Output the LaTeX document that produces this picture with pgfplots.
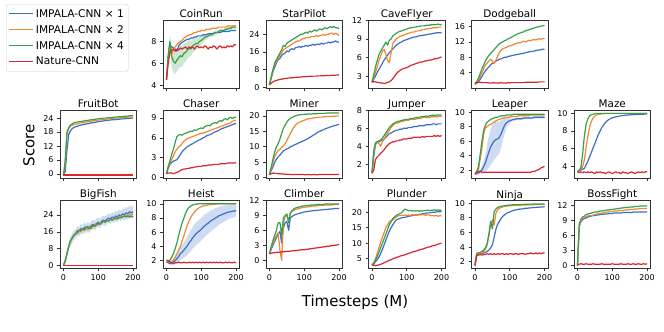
\documentclass[border=0pt]{standalone}
\usepackage{fontspec}
\setmainfont{DejaVu Sans}
\usepackage{pgfplots}
\usepackage{pgfplotstable}
\pgfplotsset{compat=1.18}
\usepgfplotslibrary{fillbetween}

\definecolor{cb}{RGB}{60,110,200}
\definecolor{co}{RGB}{240,135,50}
\definecolor{cg}{RGB}{55,160,75}
\definecolor{cr}{RGB}{215,40,45}

\pgfplotsset{
  panel/.style={scale only axis, width=76.5pt, height=68pt, anchor=south west,
    xmin=-10, xmax=210, xtick={0,100,200}, tick align=outside, tick pos=left,
    major tick length=3pt,
    axis line style={line width=0.6pt, black!80},
    every tick/.append style={line width=0.6pt, black!80},
    /pgf/number format/assume math mode=true,
    ticklabel style={font=\fontsize{8}{9}\selectfont},
    every axis title/.style={at={(0.5,1)}, anchor=base, yshift=2.5pt,
      font=\fontsize{10.4}{12}\selectfont},
    every axis plot/.append style={line width=1.2pt, line join=round}},
  nox/.style={xticklabels={}},
}

% x, IMPALA x1 (b), x2 (o), x4 (g), Nature-CNN (r), band half width (w)
\pgfplotstableread{
x b o g r w
0 4.5 4.5 4.5 4.5 0
5 6.5 6.6 6.8 6.0 0.5
10 7.7 7.8 8.0 7.0 0.6
15 7.5 6.8 6.6 7.2 1.0
20 7.4 7.3 6.2 7.3 1.0
25 7.3 7.5 6.0 7.1 1.0
30 7.1 7.7 6.3 7.3 1.0
35 7.6 7.9 6.5 7.2 1.0
40 7.8 8.0 6.7 7.4 1.0
45 7.9 8.1 6.6 7.3 0.95
50 8.0 8.3 6.9 7.4 0.9
55 8.1 8.4 7.0 7.5 0.85
60 8.2 8.5 7.2 7.3 0.8
65 8.2 8.6 7.4 7.5 0.75
70 8.3 8.6 7.3 7.4 0.7
75 8.3 8.7 7.6 7.5 0.65
80 8.4 8.8 7.7 7.3 0.6
85 8.4 8.8 7.8 7.5 0.55
90 8.5 8.9 7.8 7.6 0.5
95 8.5 8.9 8.0 7.4 0.45
100 8.5 9.0 8.1 7.5 0.4
105 8.6 9.0 8.2 7.4 0.35
110 8.6 9.0 8.4 7.6 0.3
115 8.6 9.1 8.4 7.5 0.25
120 8.7 9.1 8.5 7.3 0.2
125 8.7 9.1 8.6 7.5 0.2
130 8.7 9.2 8.6 7.4 0.2
135 8.7 9.2 8.7 7.6 0.2
140 8.8 9.2 8.8 7.5 0.2
145 8.8 9.2 8.8 7.3 0.2
150 8.8 9.3 8.9 7.5 0.15
155 8.8 9.3 9.0 7.6 0.15
160 8.9 9.3 9.0 7.4 0.15
165 8.9 9.3 9.0 7.5 0.15
170 8.9 9.3 9.1 7.4 0.15
175 8.9 9.4 9.1 7.6 0.15
180 8.9 9.4 9.2 7.5 0.15
185 9.0 9.4 9.2 7.6 0.15
190 9.0 9.4 9.3 7.5 0.15
195 9.0 9.4 9.3 7.7 0.15
200 9.0 9.4 9.3 7.7 0.15
}\tCoinRun

\pgfplotstableread{
x b o g r
0 1.0 1.0 1.0 1.0
5 4.0 4.5 4.8 1.8
10 7.0 7.5 8.0 2.4
15 9.0 10.0 11.0 2.8
20 11.0 12.0 12.5 3.0
25 12.5 13.0 14.0 3.3
30 13.0 14.5 15.5 3.5
35 14.5 15.5 17.0 3.6
40 15.0 17.0 19.0 3.8
45 15.5 17.5 18.5 3.9
50 16.5 18.0 20.0 4.0
55 16.0 18.5 20.5 4.1
60 17.0 19.0 21.0 4.2
65 17.5 19.5 21.5 4.3
70 17.0 20.0 22.0 4.3
75 18.0 20.5 22.5 4.4
80 18.0 21.0 23.0 4.5
85 18.5 21.0 23.5 4.5
90 18.0 21.5 24.0 4.6
95 18.5 22.0 24.0 4.7
100 18.5 22.0 24.5 4.7
105 19.0 22.5 25.0 4.8
110 18.5 22.5 24.5 4.8
115 19.0 22.5 25.5 4.9
120 19.0 23.0 25.0 4.9
125 19.5 23.0 25.5 5.0
130 19.0 23.0 26.0 5.0
135 19.5 23.5 25.5 5.0
140 19.5 23.0 26.0 5.1
145 19.5 23.5 26.5 5.1
150 20.0 23.5 26.0 5.2
155 19.5 24.0 26.5 5.2
160 20.0 23.5 27.0 5.2
165 20.0 24.0 26.5 5.3
170 20.5 24.0 27.0 5.3
175 20.0 24.5 27.5 5.3
180 20.5 24.5 27.0 5.4
185 20.5 24.0 27.5 5.4
190 21.0 24.5 27.0 5.4
195 20.5 24.0 27.0 5.5
200 20.5 23.5 26.5 5.5
}\tStarPilot

\pgfplotstableread{
x b o g r
0 2.0 2.0 2.0 2.2
5 2.5 2.8 3.2 2.1
10 3.0 3.6 4.5 2.1
15 3.6 4.5 5.5 2.0
20 4.1 5.5 6.5 2.0
25 4.6 6.3 7.0 1.9
30 5.1 7.0 7.5 1.9
35 5.6 7.3 8.0 1.8
40 6.0 6.5 8.5 1.9
45 6.4 5.5 8.0 2.0
50 6.8 5.2 8.8 2.1
55 7.1 6.8 9.0 2.3
60 7.4 8.3 9.5 2.6
65 7.7 8.6 9.7 3.0
70 8.0 9.0 9.9 3.4
75 8.2 9.2 10.1 3.7
80 8.4 9.4 10.2 3.9
85 8.5 9.5 10.3 4.1
90 8.7 9.6 10.4 4.2
95 8.8 9.7 10.5 4.3
100 8.9 9.8 10.6 4.4
105 9.0 9.9 10.7 4.5
110 9.1 10.0 10.8 4.7
115 9.2 10.1 10.8 4.8
120 9.3 10.1 10.9 4.9
125 9.3 10.2 10.9 5.0
130 9.4 10.3 11.0 5.1
135 9.5 10.3 11.0 5.2
140 9.5 10.4 11.1 5.3
145 9.6 10.5 11.1 5.3
150 9.6 10.5 11.1 5.4
155 9.7 10.6 11.2 5.5
160 9.7 10.6 11.2 5.5
165 9.8 10.7 11.2 5.6
170 9.8 10.7 11.3 5.6
175 9.9 10.8 11.3 5.7
180 9.9 10.8 11.3 5.8
185 10.0 10.8 11.3 5.8
190 10.0 10.9 11.4 5.9
195 10.0 10.9 11.3 6.0
200 10.0 10.9 11.3 6.1
}\tCaveFlyer

\pgfplotstableread{
x b o g r
0 1.0 1.0 1.0 1.3
5 1.2 1.4 1.6 1.4
10 1.6 2.0 2.6 1.5
15 2.3 3.0 3.8 1.5
20 3.0 4.0 5.0 1.4
25 3.8 5.0 6.0 1.4
30 4.5 6.0 7.0 1.4
35 5.0 6.5 7.8 1.4
40 5.5 7.0 8.5 1.3
45 6.0 7.5 9.0 1.3
50 6.5 7.0 9.5 1.3
55 6.6 6.4 10.0 1.4
60 7.0 7.2 10.5 1.3
65 7.2 8.2 11.0 1.3
70 7.5 9.2 11.5 1.3
75 7.6 9.8 11.8 1.4
80 7.8 10.2 12.0 1.3
85 8.0 10.4 12.3 1.3
90 8.0 10.6 12.5 1.3
95 8.2 10.8 12.8 1.4
100 8.3 11.0 13.0 1.3
105 8.4 11.1 13.2 1.4
110 8.5 11.2 13.5 1.4
115 8.6 11.5 13.7 1.4
120 8.7 11.6 14.0 1.4
125 8.8 11.8 14.2 1.4
130 8.9 11.8 14.3 1.4
135 9.0 12.0 14.5 1.4
140 9.0 12.2 14.6 1.4
145 9.2 12.0 14.9 1.5
150 9.3 12.2 15.0 1.5
155 9.4 12.4 15.2 1.5
160 9.5 12.3 15.3 1.5
165 9.5 12.5 15.5 1.5
170 9.6 12.6 15.6 1.5
175 9.8 12.5 15.8 1.5
180 9.8 12.7 15.9 1.5
185 9.9 12.8 16.0 1.6
190 10.0 12.7 16.1 1.6
195 10.1 12.9 16.2 1.6
200 10.0 12.8 16.3 1.6
}\tDodgeball

\pgfplotstableread{
x b o g r
0 -0.5 -0.5 -0.5 -0.5
5 1.0 4.0 6.0 -0.5
10 10.0 17.0 18.0 -0.5
15 17.0 19.5 20.0 -0.5
20 18.5 20.5 21.0 -0.5
25 19.5 21.0 21.5 -0.5
30 20.0 21.2 22.0 -0.5
35 20.3 21.5 22.2 -0.5
40 20.5 21.5 22.3 -0.5
45 20.8 21.8 22.5 -0.5
50 21.0 22.0 22.5 -0.5
55 21.2 22.0 22.7 -0.5
60 21.3 22.2 22.8 -0.5
65 21.5 22.3 23.0 -0.5
70 21.6 22.5 23.0 -0.5
75 21.8 22.6 23.2 -0.5
80 22.0 22.8 23.3 -0.5
85 22.0 22.8 23.4 -0.5
90 22.2 23.0 23.5 -0.5
95 22.3 23.0 23.6 -0.5
100 22.5 23.2 23.7 -0.5
105 22.5 23.2 23.8 -0.5
110 22.7 23.3 23.8 -0.5
115 22.8 23.4 24.0 -0.5
120 23.0 23.5 24.0 -0.5
125 23.0 23.6 24.1 -0.5
130 23.1 23.6 24.2 -0.5
135 23.2 23.8 24.2 -0.5
140 23.3 23.8 24.3 -0.5
145 23.3 24.0 24.4 -0.5
150 23.4 24.0 24.4 -0.5
155 23.5 24.0 24.5 -0.5
160 23.5 24.1 24.6 -0.5
165 23.6 24.2 24.6 -0.5
170 23.7 24.2 24.7 -0.5
175 23.7 24.3 24.8 -0.5
180 23.8 24.3 24.8 -0.5
185 23.8 24.4 24.9 -0.5
190 23.9 24.5 25.0 -0.5
195 24.0 24.4 25.0 -0.5
200 24.0 24.5 25.0 -0.5
}\tFruitBot

\pgfplotstableread{
x b o g r
0 0.6 0.6 0.6 0.6
5 1.4 1.5 1.7 0.7
10 2.0 2.2 2.6 0.7
15 2.3 2.7 3.5 0.7
20 2.5 3.3 4.3 0.6
25 2.6 3.9 5.3 0.7
30 2.7 4.3 6.2 0.8
35 3.1 4.6 6.4 0.9
40 3.5 4.8 6.5 1.1
45 3.9 5.2 6.4 1.2
50 4.2 5.5 6.6 1.3
55 4.4 5.7 6.7 1.3
60 4.7 5.9 6.8 1.4
65 4.8 6.0 6.9 1.4
70 5.0 6.1 7.0 1.5
75 5.1 6.2 7.0 1.5
80 5.3 6.3 7.2 1.6
85 5.4 6.4 7.1 1.6
90 5.6 6.5 7.3 1.7
95 5.7 6.6 7.4 1.7
100 5.8 6.7 7.5 1.7
105 6.0 6.7 7.4 1.8
110 6.1 6.8 7.7 1.8
115 6.3 6.9 7.8 1.8
120 6.4 7.0 7.9 1.9
125 6.5 7.1 7.8 1.9
130 6.6 7.2 8.1 1.9
135 6.8 7.3 8.2 2.0
140 6.9 7.4 8.3 2.0
145 7.0 7.5 8.2 2.0
150 7.1 7.6 8.5 2.0
155 7.3 7.7 8.6 2.1
160 7.4 7.8 8.5 2.1
165 7.5 7.9 8.8 2.1
170 7.6 8.0 8.9 2.1
175 7.7 8.1 8.7 2.2
180 7.8 8.2 9.0 2.2
185 7.9 8.3 9.1 2.2
190 8.0 8.5 8.9 2.2
195 8.1 8.6 9.1 2.2
200 8.2 8.7 9.1 2.3
}\tChaser

\pgfplotstableread{
x b o g r
0 1.0 1.0 1.0 1.0
5 2.3 3.0 3.5 1.3
10 3.5 5.0 6.0 1.5
15 5.0 6.8 8.3 1.4
20 6.0 8.0 10.0 1.4
25 6.7 8.7 11.0 1.3
30 7.3 9.2 12.5 1.3
35 8.0 9.7 14.3 1.2
40 8.7 10.3 16.0 1.2
45 9.0 11.0 17.0 1.1
50 9.3 12.0 18.0 1.1
55 9.6 13.2 18.7 1.1
60 10.0 14.3 19.2 1.0
65 10.2 15.3 19.5 1.0
70 10.5 16.3 19.8 1.0
75 10.8 17.0 20.0 1.0
80 11.0 17.6 20.2 1.0
85 11.3 17.9 20.3 1.0
90 11.5 18.1 20.4 1.0
95 11.8 18.4 20.4 1.0
100 12.0 18.6 20.5 1.0
105 12.3 18.8 20.5 0.9
110 12.6 19.0 20.6 1.0
115 13.0 19.1 20.6 1.0
120 13.3 19.2 20.6 0.9
125 13.7 19.3 20.7 1.0
130 14.0 19.4 20.7 1.0
135 14.4 19.5 20.7 0.9
140 14.8 19.5 20.8 1.0
145 15.0 19.6 20.8 1.0
150 15.3 19.6 20.8 1.0
155 15.5 19.7 20.8 1.0
160 15.8 19.7 20.8 1.0
165 16.0 19.8 20.9 1.0
170 16.2 19.8 20.9 1.0
175 16.4 19.8 20.9 1.0
180 16.6 19.9 20.9 1.0
185 16.8 19.9 20.9 1.0
190 16.9 19.9 20.9 1.0
195 17.1 20.0 20.9 1.0
200 17.2 20.0 20.9 1.0
}\tMiner

\pgfplotstableread{
x b o g r
0 1.0 1.0 1.0 1.0
5 2.8 3.2 3.5 1.3
10 4.2 4.3 4.4 2.5
15 4.4 4.5 4.5 2.8
20 4.5 4.3 4.6 3.0
25 4.6 4.0 4.7 3.2
30 4.7 4.5 4.9 3.4
35 4.8 4.8 5.2 3.6
40 5.0 5.2 5.5 3.9
45 5.2 5.5 5.8 4.1
50 5.4 5.8 6.1 4.3
55 5.5 6.1 6.3 4.4
60 5.6 6.3 6.5 4.5
65 5.7 6.5 6.6 4.5
70 5.8 6.6 6.7 4.6
75 5.8 6.6 6.8 4.6
80 5.9 6.7 6.8 4.7
85 5.9 6.8 6.9 4.7
90 6.0 6.8 6.9 4.8
95 6.0 6.9 7.0 4.8
100 6.0 6.9 7.0 4.8
105 6.1 6.9 7.0 4.9
110 6.1 7.0 7.1 4.9
115 6.1 7.0 7.1 4.9
120 6.2 7.0 7.1 5.0
125 6.2 7.0 7.2 5.0
130 6.2 7.1 7.2 5.0
135 6.3 7.1 7.2 5.0
140 6.3 7.1 7.3 5.0
145 6.3 7.2 7.3 5.1
150 6.3 7.2 7.3 5.0
155 6.4 7.2 7.4 5.1
160 6.4 7.2 7.3 5.1
165 6.4 7.2 7.4 5.1
170 6.4 7.3 7.4 5.1
175 6.5 7.3 7.5 5.1
180 6.5 7.3 7.4 5.2
185 6.4 7.3 7.5 5.1
190 6.5 7.3 7.5 5.2
195 6.5 7.4 7.5 5.1
200 6.5 7.3 7.5 5.2
}\tJumper

\pgfplotstableread{
x b o g r w
0 1.4 1.4 1.4 1.5 0
5 1.5 1.6 1.8 1.7 0.1
10 1.6 2.0 2.5 1.8 0.2
15 1.8 3.5 4.2 1.8 0.3
20 2.0 5.0 6.0 1.7 0.5
25 2.5 7.0 7.5 1.7 0.8
30 3.0 7.8 8.2 1.7 1.2
35 3.8 8.0 8.6 1.7 1.8
40 4.5 8.2 8.8 1.7 2.2
45 5.2 8.3 9.0 1.7 2.5
50 5.6 8.5 9.1 1.7 2.6
55 6.0 8.6 9.2 1.7 2.6
60 6.2 8.8 9.3 1.7 2.5
65 6.3 8.9 9.3 1.7 2.3
70 6.5 9.0 9.4 1.7 2.2
75 7.0 9.1 9.5 1.7 1.9
80 7.6 9.2 9.5 1.7 1.6
85 8.2 9.2 9.5 1.7 1.2
90 8.5 9.3 9.6 1.7 0.8
95 8.7 9.3 9.6 1.7 0.5
100 8.8 9.3 9.6 1.7 0.3
105 8.9 9.4 9.6 1.7 0.2
110 9.0 9.4 9.7 1.7 0.2
115 9.0 9.4 9.7 1.7 0.15
120 9.1 9.4 9.7 1.7 0.15
125 9.1 9.5 9.7 1.7 0.15
130 9.1 9.5 9.7 1.7 0.15
135 9.1 9.5 9.7 1.7 0.15
140 9.2 9.5 9.7 1.7 0.15
145 9.2 9.5 9.7 1.7 0.15
150 9.2 9.5 9.7 1.7 0.15
155 9.2 9.5 9.7 1.7 0.15
160 9.2 9.6 9.7 1.7 0.15
165 9.2 9.6 9.7 1.8 0.15
170 9.3 9.6 9.7 1.8 0.15
175 9.3 9.6 9.7 1.9 0.15
180 9.3 9.6 9.7 2.0 0.15
185 9.3 9.6 9.7 2.1 0.15
190 9.3 9.6 9.7 2.3 0.15
195 9.3 9.6 9.7 2.4 0.15
200 9.3 9.6 9.7 2.5 0.15
}\tLeaper

\pgfplotstableread{
x b o g r
0 3.4 3.4 3.4 3.4
5 3.5 3.5 3.6 3.3
10 3.6 3.7 3.9 3.4
15 3.7 4.0 5.5 3.3
20 3.8 4.8 7.5 3.4
25 4.2 6.2 8.8 3.3
30 4.6 7.5 9.4 3.4
35 5.1 8.5 9.7 3.3
40 5.6 9.1 9.85 3.4
45 6.1 9.5 9.9 3.3
50 6.6 9.7 9.95 3.2
55 7.1 9.8 10.0 3.4
60 7.6 9.9 10.0 3.3
65 8.0 9.9 10.0 3.4
70 8.4 9.95 10.0 3.3
75 8.7 9.95 10.0 3.3
80 8.95 10.0 10.0 3.2
85 9.15 10.0 10.0 3.3
90 9.3 10.0 10.0 3.4
95 9.4 10.0 10.0 3.3
100 9.5 10.0 10.0 3.2
105 9.55 10.0 10.0 3.3
110 9.6 10.0 10.0 3.4
115 9.65 10.0 10.0 3.3
120 9.7 10.0 10.0 3.3
125 9.72 10.0 10.0 3.2
130 9.75 10.0 10.0 3.4
135 9.77 10.0 10.0 3.3
140 9.8 10.0 10.0 3.3
145 9.82 10.0 10.0 3.2
150 9.83 10.0 10.0 3.3
155 9.85 10.0 10.0 3.4
160 9.86 10.0 10.0 3.3
165 9.87 10.0 10.0 3.2
170 9.88 10.0 10.0 3.3
175 9.89 10.0 10.0 3.4
180 9.9 10.0 10.0 3.3
185 9.9 10.0 10.0 3.4
190 9.91 10.0 10.0 3.3
195 9.92 10.0 10.0 3.4
200 9.92 10.0 10.0 3.4
}\tMaze

\pgfplotstableread{
x b o g r w
0 0.3 0.3 0.3 0.3 0
5 2.0 2.5 2.2 0.3 0.5
10 5.5 6.0 5.8 0.3 1.0
15 9.0 9.5 9.0 0.3 1.5
20 11.5 11.0 12.0 0.3 2.0
25 13.0 13.5 13.0 0.3 2.2
30 14.5 14.0 14.5 0.3 2.2
35 15.0 15.5 15.0 0.3 2.2
40 16.5 15.0 16.0 0.3 2.2
45 16.0 16.5 17.0 0.3 2.2
50 17.5 16.0 16.5 0.3 2.2
55 17.0 17.5 17.5 0.3 2.2
60 18.0 16.5 17.0 0.3 2.2
65 17.5 18.0 18.5 0.3 2.2
70 18.5 17.0 18.0 0.3 2.2
75 17.5 18.5 17.5 0.3 2.2
80 19.0 17.5 18.5 0.3 2.2
85 19.5 18.5 19.0 0.3 2.2
90 19.0 19.5 18.5 0.3 2.2
95 20.0 19.0 19.5 0.3 2.2
100 20.5 19.5 20.0 0.3 2.2
105 20.0 20.5 19.5 0.3 2.2
110 21.0 20.0 20.5 0.3 2.2
115 21.5 21.0 21.0 0.3 2.2
120 21.0 20.5 20.5 0.3 2.2
125 22.0 21.5 21.5 0.3 2.2
130 22.5 21.0 21.0 0.3 2.2
135 22.0 22.0 22.0 0.3 2.2
140 23.0 21.5 21.5 0.3 2.2
145 22.5 22.5 22.0 0.3 2.2
150 23.5 22.0 22.5 0.3 2.4
155 23.0 23.0 22.0 0.3 2.4
160 24.0 22.5 23.0 0.3 2.4
165 23.5 23.5 22.5 0.3 2.4
170 24.5 23.0 23.0 0.3 2.6
175 24.0 23.5 23.5 0.3 2.6
180 25.0 24.0 23.0 0.3 2.8
185 24.5 23.5 23.5 0.3 2.8
190 25.5 24.0 23.0 0.3 2.8
195 25.0 24.5 23.5 0.3 2.8
200 25.5 24.0 23.0 0.3 2.8
}\tBigFish

\pgfplotstableread{
x b o g r w
0 1.8 1.8 1.8 2.1 0
5 1.7 1.8 1.9 2.0 0.1
10 1.6 1.8 2.1 1.8 0.2
15 1.7 1.9 2.5 1.7 0.3
20 1.8 2.1 3.0 1.6 0.4
25 2.0 2.5 3.7 1.7 0.5
30 2.3 3.0 4.5 1.7 0.6
35 2.6 3.5 5.5 1.8 0.8
40 3.0 4.0 6.5 1.7 0.9
45 3.2 4.8 7.3 1.7 1.0
50 3.5 5.5 8.0 1.8 1.1
55 3.8 6.3 8.7 1.7 1.2
60 4.1 7.0 9.2 1.7 1.3
65 4.5 7.6 9.5 1.8 1.4
70 4.8 8.1 9.7 1.7 1.5
75 5.2 8.5 9.85 1.8 1.5
80 5.5 8.8 9.9 1.7 1.6
85 5.8 9.1 9.95 1.8 1.6
90 6.0 9.3 10.0 1.7 1.6
95 6.2 9.5 10.0 1.8 1.6
100 6.4 9.6 10.0 1.7 1.6
105 6.7 9.7 10.0 1.8 1.6
110 6.9 9.75 10.0 1.7 1.6
115 7.1 9.8 10.0 1.8 1.5
120 7.3 9.85 10.0 1.7 1.5
125 7.5 9.9 10.0 1.8 1.5
130 7.7 9.9 10.0 1.7 1.5
135 7.8 9.95 10.0 1.8 1.4
140 8.0 9.95 10.0 1.7 1.4
145 8.1 10.0 10.0 1.8 1.3
150 8.3 10.0 10.0 1.7 1.3
155 8.4 10.0 10.0 1.8 1.2
160 8.5 10.0 10.0 1.7 1.2
165 8.6 10.0 10.0 1.7 1.1
170 8.7 10.0 10.0 1.8 1.1
175 8.8 10.0 10.0 1.7 1.0
180 8.85 10.0 10.0 1.8 1.0
185 8.9 10.0 10.0 1.7 0.9
190 8.95 10.0 10.0 1.7 0.9
195 9.0 10.0 10.0 1.8 0.9
200 9.05 10.0 10.0 1.7 0.8
}\tHeist

\pgfplotstableread{
x b o g r
0 1.3 1.3 1.3 1.3
5 2.2 2.5 2.8 1.4
10 3.0 3.5 4.0 1.5
15 3.8 4.3 5.0 1.5
20 4.5 5.0 6.0 1.6
25 5.3 5.5 7.5 1.6
30 5.8 2.0 7.6 1.6
35 3.5 0.0 5.0 1.7
40 6.5 7.5 8.5 1.7
45 7.5 8.8 9.0 1.7
50 7.8 9.0 9.3 1.8
55 6.0 8.0 7.5 1.8
60 8.5 9.5 9.5 1.8
65 8.8 9.8 10.0 1.9
70 9.0 10.0 10.3 1.9
75 9.2 10.2 10.5 1.9
80 9.3 10.3 10.6 2.0
85 9.4 10.4 10.7 2.0
90 9.5 10.5 10.8 2.1
95 9.6 10.6 10.9 2.1
100 9.7 10.6 10.9 2.1
105 9.75 10.7 11.0 2.2
110 9.8 10.7 11.0 2.2
115 9.85 10.8 11.0 2.3
120 9.9 10.8 11.1 2.3
125 9.95 10.9 11.1 2.4
130 10.0 10.9 11.1 2.4
135 10.0 10.9 11.2 2.5
140 10.05 11.0 11.2 2.5
145 10.1 11.0 11.2 2.6
150 10.1 11.0 11.2 2.6
155 10.15 11.0 11.2 2.7
160 10.2 11.1 11.3 2.7
165 10.2 11.1 11.3 2.8
170 10.25 11.1 11.3 2.8
175 10.3 11.1 11.3 2.9
180 10.3 11.1 11.3 2.9
185 10.35 11.2 11.3 3.0
190 10.4 11.2 11.3 3.0
195 10.4 11.2 11.3 3.1
200 10.4 11.2 11.3 3.1
}\tClimber

\pgfplotstableread{
x b o g r
0 3.0 3.0 3.0 3.0
5 3.3 3.8 3.5 2.9
10 4.0 5.0 4.5 2.8
15 4.7 6.7 5.7 2.9
20 5.5 8.5 7.0 3.0
25 6.7 10.3 8.5 3.2
30 8.0 12.0 10.0 3.4
35 9.5 13.5 11.5 3.7
40 11.0 15.0 13.0 4.0
45 12.5 16.0 14.5 4.2
50 14.0 17.0 16.0 4.5
55 15.0 17.3 17.0 4.7
60 16.0 17.5 18.0 5.0
65 16.8 18.0 18.5 5.2
70 17.5 18.5 19.0 5.4
75 17.8 18.8 19.3 5.6
80 18.0 19.0 19.5 5.8
85 18.2 19.0 19.8 6.0
90 18.3 19.0 20.5 6.1
95 18.4 19.1 21.0 6.3
100 18.5 19.0 20.8 6.5
105 18.7 19.1 20.5 6.7
110 18.8 19.0 20.6 6.9
115 18.9 19.2 20.4 7.1
120 19.0 19.1 20.5 7.3
125 19.1 19.2 20.4 7.4
130 19.2 19.0 20.6 7.6
135 19.3 19.2 20.3 7.8
140 19.4 19.1 20.5 8.0
145 19.5 19.3 20.4 8.1
150 19.6 19.2 20.6 8.3
155 19.7 19.0 20.5 8.5
160 19.8 19.2 20.7 8.7
165 19.8 19.1 20.5 8.8
170 19.9 18.9 20.7 9.0
175 20.0 19.0 20.6 9.2
180 20.0 18.8 20.8 9.3
185 20.1 19.0 20.6 9.5
190 20.2 18.7 20.8 9.7
195 20.2 18.9 20.6 9.9
200 20.3 18.8 20.7 10.0
}\tPlunder

\pgfplotstableread{
x b o g r
0 1.5 1.5 1.5 1.5
5 3.0 3.1 3.2 2.8
10 3.0 3.1 3.2 2.9
15 3.1 3.2 3.3 3.0
20 3.1 3.2 3.4 2.9
25 3.2 3.4 3.6 3.0
30 3.3 3.7 3.9 3.0
35 3.4 4.3 4.5 3.1
40 3.6 5.5 5.8 3.0
45 3.9 7.0 7.5 3.1
50 4.3 7.7 6.5 3.0
55 5.3 7.0 8.8 3.1
60 6.4 8.6 9.2 3.0
65 7.1 9.1 9.4 3.1
70 7.5 9.3 9.5 3.0
75 7.9 9.4 9.55 3.1
80 8.2 9.5 9.6 3.1
85 8.4 9.55 9.65 3.0
90 8.6 9.6 9.7 3.1
95 8.7 9.6 9.7 3.0
100 8.8 9.65 9.75 3.1
105 8.9 9.65 9.75 3.1
110 9.0 9.7 9.8 3.0
115 9.05 9.7 9.8 3.1
120 9.1 9.7 9.8 3.1
125 9.15 9.72 9.8 3.0
130 9.2 9.72 9.82 3.1
135 9.2 9.74 9.82 3.1
140 9.25 9.75 9.83 3.1
145 9.3 9.75 9.84 3.0
150 9.3 9.76 9.85 3.1
155 9.35 9.77 9.85 3.1
160 9.35 9.78 9.86 3.2
165 9.4 9.78 9.87 3.1
170 9.4 9.79 9.87 3.1
175 9.42 9.8 9.88 3.2
180 9.44 9.8 9.88 3.1
185 9.45 9.8 9.89 3.2
190 9.47 9.8 9.9 3.1
195 9.48 9.8 9.9 3.2
200 9.5 9.8 9.9 3.2
}\tNinja

\pgfplotstableread{
x b o g r
0 0.0 0.0 0.0 0.3
5 7.8 8.0 8.3 0.3
10 8.8 9.0 9.3 0.4
15 9.2 9.4 9.7 0.3
20 9.4 9.6 9.9 0.3
25 9.5 9.8 10.2 0.4
30 9.7 9.9 10.3 0.3
35 9.8 10.0 10.4 0.3
40 9.9 10.0 10.5 0.3
45 10.0 10.1 10.6 0.4
50 10.0 10.2 10.7 0.3
55 10.1 10.3 10.7 0.3
60 10.1 10.4 10.8 0.3
65 10.2 10.4 10.9 0.3
70 10.2 10.5 10.9 0.4
75 10.3 10.6 11.0 0.3
80 10.3 10.6 11.0 0.3
85 10.3 10.7 11.1 0.3
90 10.4 10.7 11.1 0.3
95 10.4 10.8 11.2 0.3
100 10.4 10.8 11.2 0.4
105 10.5 10.9 11.3 0.3
110 10.5 10.9 11.3 0.3
115 10.5 10.9 11.4 0.3
120 10.5 11.0 11.4 0.3
125 10.5 11.0 11.5 0.4
130 10.6 11.0 11.5 0.3
135 10.6 11.1 11.6 0.3
140 10.6 11.1 11.6 0.3
145 10.6 11.1 11.6 0.4
150 10.6 11.2 11.7 0.3
155 10.6 11.2 11.7 0.3
160 10.7 11.2 11.7 0.4
165 10.7 11.3 11.8 0.3
170 10.7 11.3 11.8 0.3
175 10.7 11.3 11.8 0.4
180 10.7 11.4 11.9 0.3
185 10.7 11.4 11.9 0.3
190 10.7 11.4 11.9 0.4
195 10.7 11.4 11.9 0.3
200 10.7 11.4 11.9 0.4
}\tBossFight

\newcommand{\curves}[1]{%
  \addplot[cb] table[x=x, y=b] {#1};
  \addplot[co] table[x=x, y=o] {#1};
  \addplot[cg] table[x=x, y=g] {#1};
  \addplot[cr] table[x=x, y=r] {#1};}
% shaded band: table, column, colour
\newcommand{\band}[3]{%
  \addplot[draw=none, name path=hi, forget plot] table[x=x, y expr=\thisrow{#2}+\thisrow{w}] {#1};
  \addplot[draw=none, name path=lo, forget plot] table[x=x, y expr=\thisrow{#2}-\thisrow{w}] {#1};
  \addplot[fill=#3, fill opacity=0.25, draw=none, forget plot] fill between[of=hi and lo];}

\begin{document}
\begin{tikzpicture}[x=1pt, y=1pt]

% row 1 (CoinRun carries the shared legend, placed at the top left of the figure)
\begin{axis}[panel, nox, at={(163pt,244pt)}, title={CoinRun}, ymin=3.75, ymax=9.95, ytick={4,6,8},
  legend cell align=left,
  legend style={at={(-2.052,1.235)}, anchor=north west, draw=black!20, rounded corners=2.5pt,
    font=\fontsize{10.6}{12}\selectfont, row sep=2.6pt, inner xsep=2.5pt, inner ysep=3pt},
  legend image code/.code={\draw[#1] (0pt,0pt) -- (24pt,0pt);}]
\band{\tCoinRun}{g}{cg}
\curves{\tCoinRun}
\legend{IMPALA-CNN × 1, IMPALA-CNN × 2, IMPALA-CNN × 4, Nature-CNN}
\end{axis}
\begin{axis}[panel, nox, at={(266pt,244pt)}, title={StarPilot}, ymin=-0.4, ymax=30.5, ytick={0,8,16,24}]
\curves{\tStarPilot}
\end{axis}
\begin{axis}[panel, nox, at={(368.5pt,244pt)}, title={CaveFlyer}, ymin=1.1, ymax=12.05, ytick={3,6,9,12}]
\curves{\tCaveFlyer}
\end{axis}
\begin{axis}[panel, nox, at={(471.5pt,244pt)}, title={Dodgeball}, ymin=0, ymax=17.7, ytick={4,8,12,16}]
\curves{\tDodgeball}
\end{axis}

% row 2
\begin{axis}[panel, nox, at={(60pt,154pt)}, title={FruitBot}, ymin=-1.75, ymax=27.5, ytick={0,6,12,18,24}]
\curves{\tFruitBot}
\end{axis}
\begin{axis}[panel, nox, at={(163pt,154pt)}, title={Chaser}, ymin=-0.05, ymax=10.2, ytick={0,3,6,9}]
\curves{\tChaser}
\end{axis}
\begin{axis}[panel, nox, at={(266pt,154pt)}, title={Miner}, ymin=-0.1, ymax=21.9, ytick={0,5,10,15,20}]
\curves{\tMiner}
\end{axis}
\begin{axis}[panel, nox, at={(368.5pt,154pt)}, title={Jumper}, ymin=0.45, ymax=8.05, ytick={2,4,6,8}]
\curves{\tJumper}
\end{axis}
\begin{axis}[panel, nox, at={(471.5pt,154pt)}, title={Leaper}, ymin=0.9, ymax=10.3, ytick={2,4,6,8,10}]
\band{\tLeaper}{b}{cb}
\curves{\tLeaper}
\end{axis}
\begin{axis}[panel, nox, at={(574pt,154pt)}, title={Maze}, ymin=2.7, ymax=10.38, ytick={4,6,8,10}]
\curves{\tMaze}
\end{axis}

% row 3
\begin{axis}[panel, at={(60pt,63.5pt)}, title={BigFish}, ymin=-1.3, ymax=30.8, ytick={0,8,16,24}]
\band{\tBigFish}{b}{cb}
\curves{\tBigFish}
\end{axis}
\begin{axis}[panel, at={(163pt,63.5pt)}, title={Heist}, ymin=0.9, ymax=10.47, ytick={2,4,6,8,10}]
\band{\tHeist}{b}{cb}
\curves{\tHeist}
\end{axis}
\begin{axis}[panel, at={(266pt,63.5pt)}, title={Climber}, ymin=-1.65, ymax=12.0, ytick={0,3,6,9,12}]
\curves{\tClimber}
\end{axis}
\begin{axis}[panel, at={(368.5pt,63.5pt)}, title={Plunder}, ymin=1.85, ymax=23.8, ytick={5,10,15,20}]
\curves{\tPlunder}
\end{axis}
\begin{axis}[panel, at={(471.5pt,63.5pt)}, title={Ninja}, ymin=1.08, ymax=10.36, ytick={2,4,6,8,10}]
\curves{\tNinja}
\end{axis}
\begin{axis}[panel, at={(574pt,63.5pt)}, title={BossFight}, ymin=-0.55, ymax=13.0, ytick={0,3,6,9,12}]
\curves{\tBossFight}
\end{axis}

\node[rotate=90, font=\fontsize{15}{18}\selectfont] at (29,187) {Score};
\node[font=\fontsize{15}{18}\selectfont] at (355,30) {Timesteps (M)};
\path (0,0) rectangle (664,332);
\end{tikzpicture}
\end{document}
